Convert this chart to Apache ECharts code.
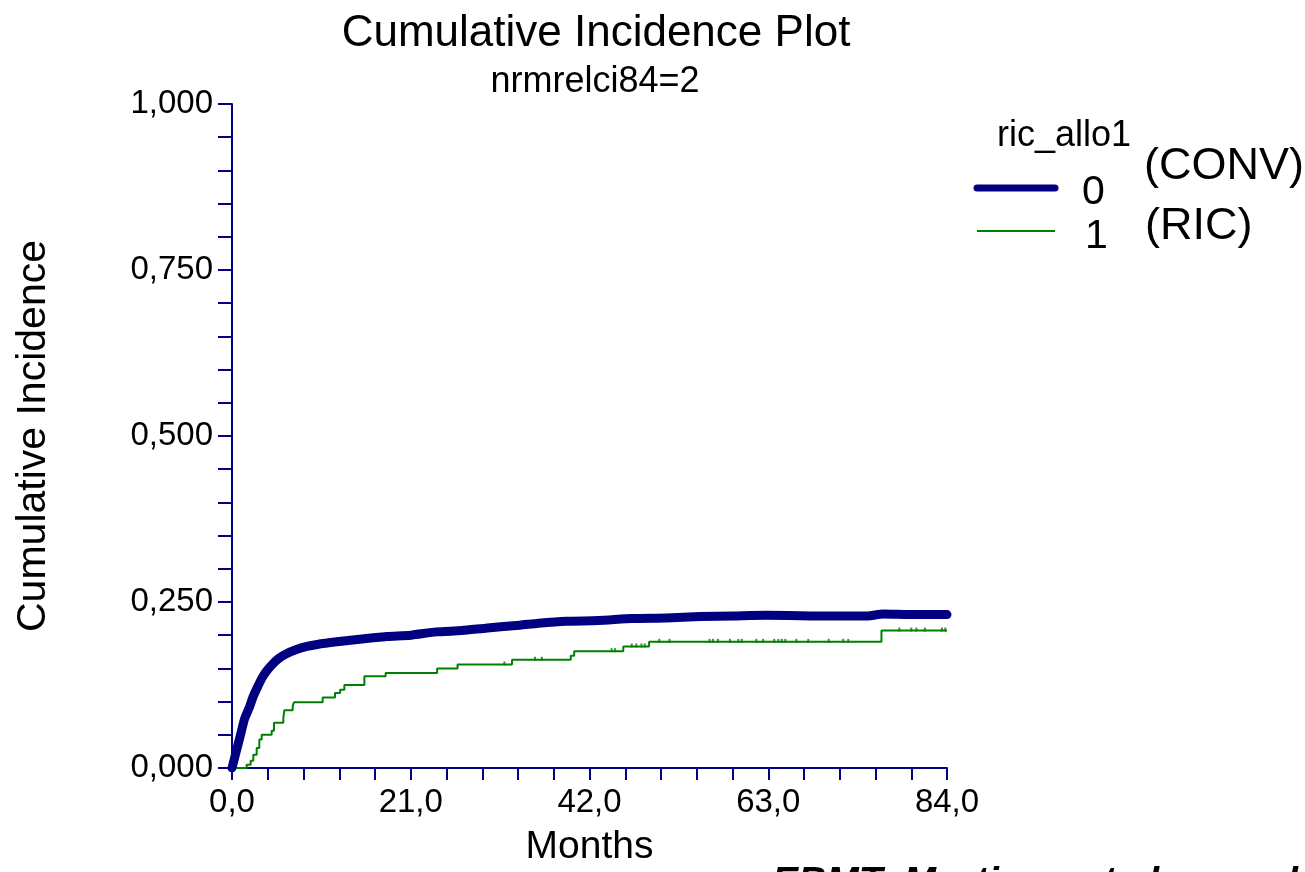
<!DOCTYPE html>
<html>
<head>
<meta charset="utf-8">
<script src="https://cdn.jsdelivr.net/npm/echarts@6/dist/echarts.min.js"></script>
<style>
html,body{margin:0;padding:0;background:#fff;}
#chart{width:1305px;height:872px;}
</style>
</head>
<body>
<div id="chart"></div>
<script>
// ---- data ----
const titleText = 'Cumulative Incidence Plot';
const subtitleText = 'nrmrelci84=2';
const xAxisName = 'Months';
const yAxisName = 'Cumulative Incidence';
const legendTitle = 'ric_allo1';
const groupCodes = ['0', '1'];
const groupLabels = ['(CONV)', '(RIC)'];
const footnote = 'EBMT: Mortimer et al.. unpublished';

// Group 0 (CONV): [months, cumulative incidence]
const convMonths = [0, 0.5, 1.0, 1.5, 2.0, 2.5, 3.0, 3.5, 4.0, 4.66, 5.5, 6.4, 7.5, 8.8, 10, 12.3, 15, 18.2, 21, 24, 27, 30, 33.8, 36, 39.3, 43, 47, 51, 55, 59, 62.8, 68, 74.6, 76.5, 80, 84];
const convValues = [0, 0.025, 0.05, 0.075, 0.09, 0.108, 0.122, 0.135, 0.145, 0.155, 0.165, 0.172, 0.178, 0.183, 0.186, 0.19, 0.194, 0.198, 0.2, 0.205, 0.207, 0.211, 0.215, 0.218, 0.221, 0.222, 0.225, 0.226, 0.228, 0.229, 0.23, 0.229, 0.229, 0.232, 0.231, 0.231];

// Group 1 (RIC): step function [months, cumulative incidence]
const ricMonths = [0, 1.72, 2.19, 2.5, 2.9, 3.21, 3.49, 4.66, 4.93, 6.03, 6.15, 7.13, 7.28, 10.65, 12.1, 12.7, 13.2, 15.55, 18.05, 24.1, 26.5, 32.9, 39.8, 40.2, 45.97, 49.0, 76.3, 84];
const ricValues = [0, 0.005, 0.011, 0.02, 0.03, 0.043, 0.05, 0.056, 0.068, 0.075, 0.087, 0.093, 0.099, 0.106, 0.113, 0.118, 0.125, 0.138, 0.143, 0.15, 0.156, 0.163, 0.169, 0.176, 0.183, 0.19, 0.207, 0.207];

// Censored observations in group 1
const ricCensMonths = [32.0, 35.6, 36.4, 44.6, 45.0, 46.96, 47.5, 48.1, 48.5, 50.2, 51.4, 56.1, 56.5, 57.1, 58.5, 59.5, 59.9, 61.6, 62.4, 63.7, 64.2, 64.6, 65.0, 66.3, 67.7, 70.1, 71.8, 72.4, 78.4, 79.8, 80.4, 81.4, 83.4, 83.8];
const ricCensValues = [0.156, 0.163, 0.163, 0.176, 0.176, 0.183, 0.183, 0.183, 0.183, 0.19, 0.19, 0.19, 0.19, 0.19, 0.19, 0.19, 0.19, 0.19, 0.19, 0.19, 0.19, 0.19, 0.19, 0.19, 0.19, 0.19, 0.19, 0.19, 0.207, 0.207, 0.207, 0.207, 0.207, 0.207];

const xTickMin = 0, xTickMax = 84, xTickStep = 21;
const yTickMin = 0, yTickMax = 1, yTickStep = 0.25;

// ---- chart ----
const NAVY = '#000080';
const GREEN = '#008000';
const FONT = '"Liberation Sans", Arial, sans-serif';
const zip = (a, b) => a.map((v, i) => [v, b[i]]);

const chart = echarts.init(document.getElementById('chart'), null, {renderer: 'canvas'});
chart.setOption({
  backgroundColor: '#ffffff',
  animation: false,
  title: [
    {text: titleText, left: 591, top: 7, textAlign: 'center',
     textStyle: {fontFamily: FONT, fontSize: 44, fontWeight: 'normal', color: '#000'}},
    {text: subtitleText, left: 590, top: 59, textAlign: 'center',
     textStyle: {fontFamily: FONT, fontSize: 36, fontWeight: 'normal', color: '#000'}}
  ],
  grid: {left: 232, right: 358, top: 104, bottom: 102, containLabel: false},
  xAxis: {
    type: 'value', min: xTickMin, max: xTickMax, interval: xTickStep,
    name: xAxisName, nameLocation: 'middle', nameGap: 60,
    nameTextStyle: {fontFamily: FONT, fontSize: 39, color: '#000'},
    axisLine: {show: true, onZero: false, lineStyle: {color: NAVY, width: 2}},
    axisTick: {show: true, inside: false, length: 12, lineStyle: {color: NAVY, width: 2}},
    minorTick: {show: true, splitNumber: 5, length: 12, lineStyle: {color: NAVY, width: 2}},
    splitLine: {show: false},
    axisLabel: {margin: 18, fontFamily: FONT, fontSize: 33, color: '#000',
      formatter: v => v.toFixed(1).replace('.', ',')}
  },
  yAxis: {
    type: 'value', min: yTickMin, max: yTickMax, interval: yTickStep,
    name: yAxisName, nameLocation: 'middle', nameGap: 178, nameRotate: 90,
    nameTextStyle: {fontFamily: FONT, fontSize: 41, color: '#000'},
    axisLine: {show: true, onZero: false, lineStyle: {color: NAVY, width: 2}},
    axisTick: {show: true, inside: false, length: 14, lineStyle: {color: NAVY, width: 2}},
    minorTick: {show: true, splitNumber: 5, length: 14, lineStyle: {color: NAVY, width: 2}},
    splitLine: {show: false},
    axisLabel: {margin: 19, fontFamily: FONT, fontSize: 33, color: '#000',
      formatter: v => v.toFixed(3).replace('.', ',')}
  },
  series: [
    {
      name: groupLabels[1], type: 'line', step: 'end', showSymbol: false,
      data: zip(ricMonths, ricValues),
      lineStyle: {color: GREEN, width: 2}, z: 3
    },
    {
      name: groupLabels[1] + ' censored', type: 'scatter',
      data: zip(ricCensMonths, ricCensValues),
      symbol: 'rect', symbolSize: [2, 4], symbolOffset: [0, -1],
      itemStyle: {color: GREEN}, z: 3
    },
    {
      name: groupLabels[0], type: 'line', showSymbol: false, smooth: 0.2,
      data: zip(convMonths, convValues),
      lineStyle: {color: NAVY, width: 9, cap: 'round', join: 'round'}, z: 4
    }
  ],
  graphic: [
    {type: 'text', left: 997, top: 118, style: {text: legendTitle, font: '36px ' + FONT, fill: '#000'}},
    {type: 'line', shape: {x1: 977, y1: 188, x2: 1055, y2: 188}, style: {stroke: NAVY, lineWidth: 7, lineCap: 'round'}},
    {type: 'line', shape: {x1: 977, y1: 231, x2: 1055, y2: 231}, style: {stroke: GREEN, lineWidth: 2}},
    {type: 'text', left: 1082, top: 172, style: {text: groupCodes[0], font: '41px ' + FONT, fill: '#000'}},
    {type: 'text', left: 1085, top: 216, style: {text: groupCodes[1], font: '41px ' + FONT, fill: '#000'}},
    {type: 'text', left: 1144, top: 144, style: {text: groupLabels[0], font: '45px ' + FONT, fill: '#000'}},
    {type: 'text', left: 1145, top: 204, style: {text: groupLabels[1], font: '45px ' + FONT, fill: '#000'}},
    {type: 'text', x: 772, y: 864, style: {text: footnote, font: 'italic bold 39px ' + FONT, fill: '#000', verticalAlign: 'top'}}
  ]
});
</script>
</body>
</html>
